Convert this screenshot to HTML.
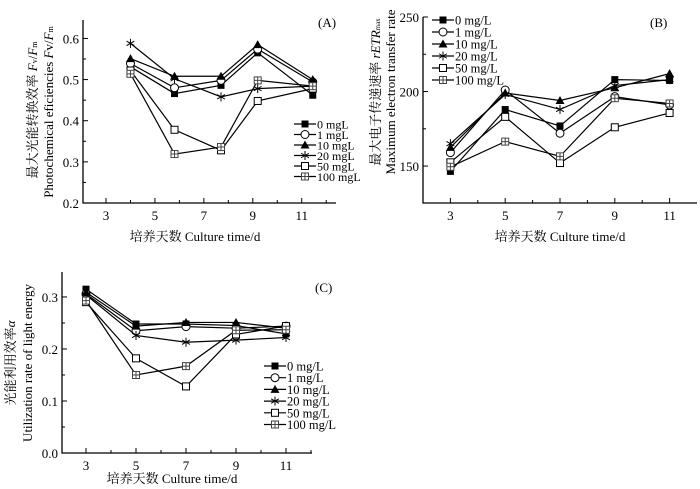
<!DOCTYPE html>
<html><head><meta charset="utf-8">
<style>
body{margin:0;background:#fff;}
svg{display:block;font-family:"Liberation Serif","Noto Serif CJK SC",serif;}
</style></head>
<body>
<svg id="chart" width="700" height="489" viewBox="0 0 700 489" xmlns="http://www.w3.org/2000/svg">
<text transform="translate(37,110) rotate(-90)" text-anchor="middle" font-size="13">最大光能转换效率 <tspan font-style="italic">F</tspan><tspan font-size="8">v</tspan>/<tspan font-style="italic">F</tspan><tspan font-size="8">m</tspan></text>
<text transform="translate(53,112) rotate(-90)" text-anchor="middle" font-size="13">Photochemical eficiencies <tspan font-style="italic">F</tspan>v/<tspan font-style="italic">F</tspan><tspan font-size="8">m</tspan></text>
<text x="195" y="241" text-anchor="middle" font-size="13">培养天数 Culture time/d</text>
<text transform="translate(380,92) rotate(-90)" text-anchor="middle" font-size="13">最大电子传递速率 <tspan font-style="italic">rETR</tspan><tspan font-size="7">max</tspan></text>
<text transform="translate(395,92) rotate(-90)" text-anchor="middle" font-size="13">Maximum electron transfer rate</text>
<text x="560" y="241" text-anchor="middle" font-size="13">培养天数 Culture time/d</text>
<text transform="translate(15,363) rotate(-90)" text-anchor="middle" font-size="13">光能利用效率<tspan font-style="italic">α</tspan></text>
<text transform="translate(32,363) rotate(-90)" text-anchor="middle" font-size="13">Utilization rate of light energy</text>
<text x="172" y="483" text-anchor="middle" font-size="13">培养天数 Culture time/d</text>
<text x="318" y="27" font-size="13">(A)</text>
<text x="650" y="27" font-size="13">(B)</text>
<text x="315" y="292" font-size="13">(C)</text>
</svg>
<script>
const seriesNames=["0 mg/L","1 mg/L","10 mg/L","20 mg/L","50 mg/L","100 mg/L"];
const legendA=["0 mgL","1 mgL","10 mgL","20 mgL","50 mgL","100 mgL"];
const aDays=[4,5.8,7.7,9.2,11.45];
const aS0=[0.531,0.466,0.486,0.565,0.462];
const aS1=[0.539,0.48,0.498,0.574,0.494];
const aS10=[0.551,0.508,0.508,0.585,0.5];
const aS20=[0.588,0.502,0.458,0.478,0.484];
const aS50=[0.522,0.378,0.328,0.448,0.478];
const aS100=[0.514,0.319,0.336,0.498,0.484];
const aYTicks=[0.2,0.3,0.4,0.5,0.6];
const bDays=[3,5,7,9,11];
const bS0=[146.4,187.9,176.9,208,207.4];
const bS1=[159,201,172,196.6,191];
const bS10=[162.5,199,194,202.5,212];
const bS20=[165,198,188,204,208];
const bS50=[152.5,183,152,176,185.6];
const bS100=[149.5,166.4,156.5,195.5,192];
const bYTicks=[150,200,250];
const cDays=[3,5,7,9,11];
const cS0=[0.315,0.248,0.248,0.245,0.229];
const cS1=[0.306,0.235,0.243,0.24,0.244];
const cS10=[0.309,0.244,0.251,0.251,0.24];
const cS20=[0.304,0.226,0.213,0.217,0.222];
const cS50=[0.29,0.182,0.128,0.228,0.244];
const cS100=[0.293,0.15,0.167,0.236,0.237];
const cYTicks=[0.0,0.1,0.2,0.3];
const xTicks=[3,5,7,9,11];

const NS="http://www.w3.org/2000/svg";
const svg=document.getElementById('chart');
function mk(tag,attrs,parent){const e=document.createElementNS(NS,tag);for(const k in attrs)e.setAttribute(k,attrs[k]);(parent||svg).appendChild(e);return e;}

function marker(g,type,x,y){
  const s=3.5;
  if(type===0){mk('rect',{x:x-s,y:y-s,width:2*s,height:2*s,fill:'#000'},g);}
  else if(type===1){mk('circle',{cx:x,cy:y,r:s+0.5,fill:'#fff',stroke:'#000','stroke-width':1},g);}
  else if(type===2){mk('path',{d:`M${x},${y-s-1}L${x+s+1},${y+s}L${x-s-1},${y+s}Z`,fill:'#000'},g);}
  else if(type===3){const r=s+1,c=r*0.866,h=r*0.5;
    mk('path',{d:`M${x},${y-r}V${y+r}M${x-c},${y-h}L${x+c},${y+h}M${x-c},${y+h}L${x+c},${y-h}`,stroke:'#000','stroke-width':1,fill:'none'},g);}
  else if(type===4){mk('rect',{x:x-s,y:y-s,width:2*s,height:2*s,fill:'#fff',stroke:'#000','stroke-width':1},g);}
  else {mk('rect',{x:x-s,y:y-s,width:2*s,height:2*s,fill:'#fff',stroke:'#444','stroke-width':1},g);
        mk('path',{d:`M${x-s},${y}H${x+s}M${x},${y-s}V${y+s}`,stroke:'#444','stroke-width':1},g);}
}

function panel(p){
  const g=mk('g',{});
  
  
  const sx=v=>p.l+(v-p.x0)/(p.x1-p.x0)*(p.r-p.l);
  const sy=v=>p.b-(v-p.y0)/(p.y1-p.y0)*(p.b-p.t);
  const ax=mk('path',{d:`M${p.l},${p.t}V${p.b}H${p.r}`,stroke:'#000','stroke-width':1.3,fill:'none'},g);
  
  
  xTicks.forEach(v=>{
    const x=sx(v);
    mk('line',{x1:x,y1:p.b,x2:x,y2:p.b-5,stroke:'#000'},g);
    const xm=sx(v+1);
    if(xm<p.r) mk('line',{x1:xm,y1:p.b,x2:xm,y2:p.b-3,stroke:'#000'},g);
    const t=mk('text',{x:x,y:p.b+17,'text-anchor':'middle','font-size':13},g);
    t.textContent=v;
    
    
  });
  p.yt.forEach((v,i)=>{
    const y=sy(v);
    mk('line',{x1:p.l,y1:y,x2:p.l+5,y2:y,stroke:'#000'},g);
    if(i<p.yt.length-1){const ym=sy((v+p.yt[i+1])/2);mk('line',{x1:p.l,y1:ym,x2:p.l+3,y2:ym,stroke:'#000'},g);}
    const t=mk('text',{x:p.l-4,y:y+5,'text-anchor':'end','font-size':13},g);
    t.textContent=p.fmt(v);
    
    
  });
  p.series.forEach((s,si)=>{
    const sg=mk('g',{},g);
    
    
    const d=s.map((v,i)=>(i?'L':'M')+sx(p.days[i])+','+sy(v)).join('');
    mk('path',{d:d,stroke:'#000','stroke-width':1.2,fill:'none'},sg);
    s.forEach((v,i)=>marker(sg,si,sx(p.days[i]),sy(v)));
  });
  const lg=mk('g',{},g);
  
  
  p.legend.forEach((n,i)=>{
    const y=p.ly+i*p.lh;
    const eg=mk('g',{},lg);
    
    
    mk('line',{x1:p.lx,y1:y,x2:p.lx+22,y2:y,stroke:'#000','stroke-width':1.2},eg);
    marker(eg,i,p.lx+11,y);
    const t=mk('text',{x:p.lx+23,y:y+4.5,'font-size':p.lf},eg);
    t.textContent=n;
  });
}
panel({name:'panel-a',l:83,r:336,t:20,b:203,x0:2.06,x1:12.4,y0:0.2,y1:0.6448,yt:aYTicks,fmt:v=>v.toFixed(1),
  days:aDays,series:[aS0,aS1,aS10,aS20,aS50,aS100],legend:legendA,lx:294,ly:124,lh:10.5,lf:12});
panel({name:'panel-b',l:423,r:697,t:17,b:203,x0:2.0,x1:12.0,y0:125.2,y1:250,yt:bYTicks,fmt:v=>v,
  days:bDays,series:[bS0,bS1,bS10,bS20,bS50,bS100],legend:seriesNames,lx:432,ly:20,lh:12,lf:12.5});
panel({name:'panel-c',l:62,r:312,t:272,b:453,x0:2.04,x1:12.04,y0:0,y1:0.348,yt:cYTicks,fmt:v=>v.toFixed(1),
  days:cDays,series:[cS0,cS1,cS10,cS20,cS50,cS100],legend:seriesNames,lx:264,ly:366,lh:11.7,lf:12.5});
</script>
</body></html>
